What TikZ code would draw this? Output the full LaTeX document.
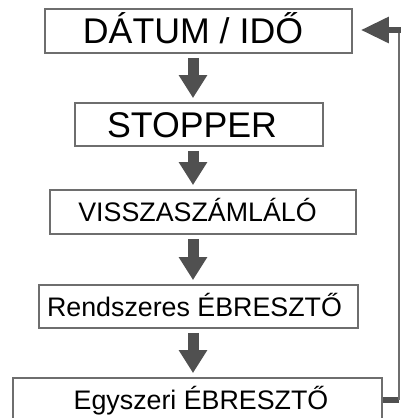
\documentclass[tikz,border=0pt]{standalone}
\usepackage{fontspec}
\setmainfont{Liberation Sans}
\usetikzlibrary{arrows.meta}
\definecolor{boxgray}{HTML}{6E6E6E}
\definecolor{arrowgray}{HTML}{505050}
\def\bigfont{\fontsize{35.7}{40}\selectfont}
\def\smallfont{\fontsize{26.8}{30}\selectfont}
\tikzset{
	menubox/.style={draw=boxgray, line width=1.8pt, inner sep=0pt, text depth=0pt},
	bigtext/.style={font=\bigfont, text height=25.6pt},
	smalltext/.style={font=\smallfont, text height=19.2pt},
	downarrow/.style={draw=arrowgray, line width=11pt, -{Triangle[width=27pt,length=23pt]}, shorten <=4pt, shorten >=4pt},
	backarrow/.style={draw=arrowgray, line width=6pt, -{Triangle[width=25pt,length=28pt]}, shorten >=8pt},
	backline/.style={draw=boxgray, line width=1.5pt}
}

\begin{document}
\begin{tikzpicture}[x=1pt, y=-1pt]
			%%%%% START %%%%%
			\useasboundingbox (0, 0) rectangle (401, 418);
			
			\node[menubox, bigtext, minimum width=307pt, minimum height=44pt] (datum) at (198.5, 31) {DÁTUM / IDŐ\hspace*{11pt}};
			\node[menubox, bigtext, minimum width=248pt, minimum height=43pt] (stopper) at (199, 124.5) {STOPPER\hspace*{14pt}};
			\node[menubox, smalltext, minimum width=306pt, minimum height=44pt] (vissza) at (203, 212) {VISSZASZÁMLÁLÓ\hspace*{11pt}};
			\node[menubox, smalltext, minimum width=319pt, minimum height=43pt] (rendszeres) at (198.5, 306.5) {Rendszeres ÉBRESZTŐ\hspace*{8pt}};
			\node[menubox, smalltext, minimum width=369pt, minimum height=44pt] (egyszeri) at (197.5, 400) {\hspace*{7pt}Egyszeri ÉBRESZTŐ};
			
			% arrows down the column
			\coordinate (ax) at (193, 0);
			\draw[downarrow] (datum.south -| ax) -- (stopper.north -| ax);
			\draw[downarrow] (stopper.south -| ax) -- (vissza.north -| ax);
			\draw[downarrow] (vissza.south -| ax) -- (rendszeres.north -| ax);
			\draw[downarrow] (rendszeres.south -| ax) -- (egyszeri.north -| ax);
			
			% back to the top
			\coordinate (rx) at (399, 0);
			\coordinate (rbot) at (egyszeri.east -| rx);
			\coordinate (rtop) at (399, 30);
			\coordinate (rend) at (403, 30);
			\draw[arrowgray, line width=6pt] (egyszeri.east) -- (rbot);
			\draw[backline] (rbot) -- (rtop);
			\draw[backarrow] (rend) -- (datum.east |- rend);
			%%%%% END %%%%%
\end{tikzpicture}
\end{document}
